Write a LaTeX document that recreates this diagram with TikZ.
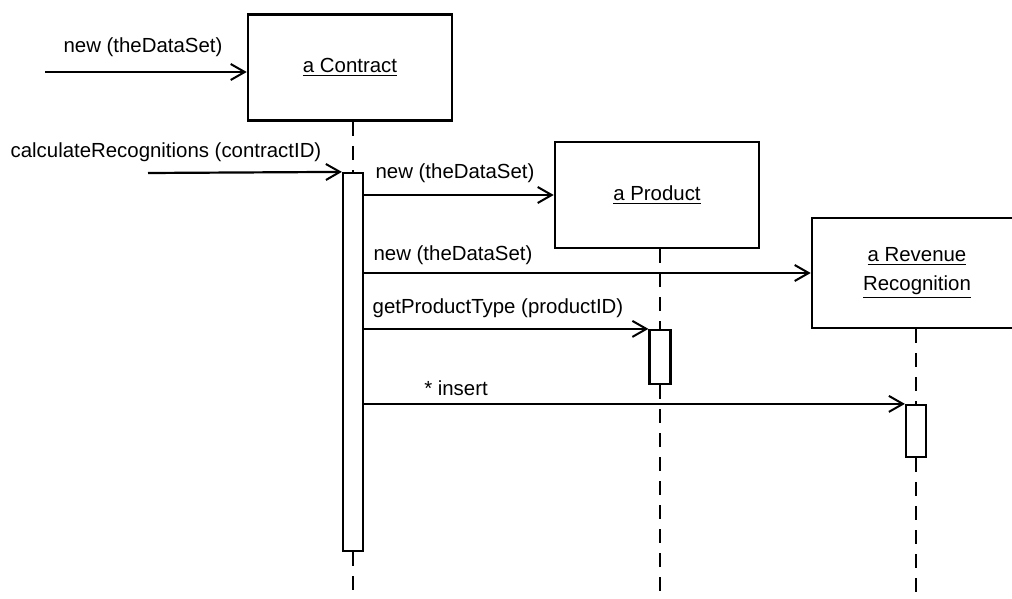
\documentclass[tikz,border=0pt]{standalone}
\usepackage{fontspec}
\setmainfont{Liberation Sans}
\usetikzlibrary{arrows.meta,positioning}

\begin{document}
\begin{tikzpicture}[x=0.5pt, y=-0.5pt, every node/.style={font=\fontsize{10.2}{14.5}\selectfont},
    obj/.style={draw, line width=1.3pt, minimum width=102pt, minimum height=53pt, inner sep=0pt, align=center},
    actbox/.style={draw, line width=1.1pt, minimum width=10pt, inner sep=0pt},
    msg/.style={line width=1.1pt, -{Straight Barb[length=7pt, width=8pt, line width=1pt]}},
    lifeline/.style={line width=1.2pt, dash pattern=on 7pt off 5pt}]
    \useasboundingbox (0,0) rectangle (1012,599);
    \coordinate (bottom) at (0,599);

    % objects
    \node[obj] (con) at (350,67.5) {\underline{a Contract}};
    \node[obj] (prod) at (657,195) {\underline{a Product}};
    \node[obj, minimum width=105pt, minimum height=55pt] (rev) at (917,273) {\underline{a Revenue}\\\underline{Recognition}};

    % activations
    \node[actbox, minimum height=189pt] (conact) at (353,362) {};
    \node[actbox, minimum width=10.5pt, minimum height=27pt] (prodact) at (660,357) {};
    \node[actbox, minimum height=26pt] (revact) at (916,431) {};

    % lifelines
    \draw[lifeline] (conact.north |- con.south) -- (conact.north);
    \draw[lifeline] (conact.south) -- (conact.south |- bottom);
    \draw[lifeline] (prodact.north |- prod.south) -- (prodact.north);
    \draw[lifeline] (prodact.south) -- (prodact.south |- bottom);
    \draw[lifeline] (revact.north |- rev.south) -- (revact.north);
    \draw[lifeline] (revact.south) -- (revact.south |- bottom);

    % messages
    \coordinate (newfrom) at (45,72);
    \coordinate (calcfrom) at (148,173);
    \node (lnew) at (143,47) {new (theDataSet)};
    \draw[msg] (newfrom) -- (newfrom -| con.west);
    \node (lcalc) at (166,152) {calculateRecognitions (contractID)};
    \draw[msg] (calcfrom) -- (conact.north west);
    \node (lprod) at (455,173) {new (theDataSet)};
    \draw[msg] (conact.east |- prod.west) -- (prod.west);
    \node (lrev) at (453,255) {new (theDataSet)};
    \draw[msg] (conact.east |- rev.west) -- (rev.west);
    \node (lget) at (498,308) {getProductType (productID)};
    \draw[msg] (conact.east |- prodact.north) -- (prodact.north west);
    \node (lins) at (456,388) {* insert};
    \draw[msg] (conact.east |- revact.north) -- (revact.north west);
\end{tikzpicture}
\end{document}
